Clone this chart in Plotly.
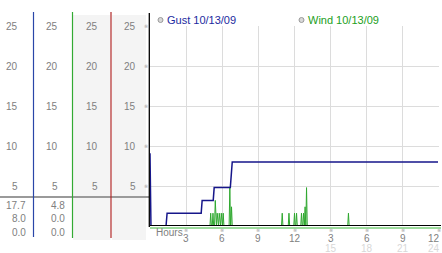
import plotly.graph_objects as go

W, H = 442, 253
L, R, T, B = 150, 3, 26, 27
PW = W - L - R
PH = H - T - B

def px(x):
    return (x - L) / PW

def py(y):
    return (H - B - y) / PH

# ---------------- data ----------------
gust_hours = [0, 0.08, 1.33, 1.42, 4.25, 4.33, 5.25, 5.33, 6.67, 6.83, 23.92]
gust_vals = [9.1, 0, 0, 1.6, 1.6, 3.2, 3.2, 4.8, 4.8, 8.0, 8.0]

wind_spike_hours = [5.04, 5.23, 5.42, 5.58, 5.75, 5.92, 6.08, 6.63, 6.77,
                    10.98, 11.54, 12.0, 12.17, 12.58, 12.75, 12.88, 13.0, 16.48]
wind_spike_vals = [1.6, 1.6, 3.2, 1.6, 1.6, 1.6, 1.6, 4.8, 2.4,
                   1.6, 1.6, 1.6, 1.6, 1.6, 1.6, 2.4, 4.8, 1.6]

y_ticks = [5, 10, 15, 20, 25]
x_ticks = [3, 6, 9, 12, 15, 18, 21, 24]
x_labels = ["3", "6", "9", "12", "3", "6", "9", "12"]
x_labels2_pos = [15, 18, 21, 24]
x_labels2 = ["15", "18", "21", "24"]

gust_stats = ["17.7", "8.0", "0.0"]
wind_stats = ["4.8", "0.0", "0.0"]

legend_items = ["Gust 10/13/09", "Wind 10/13/09"]

# build wind line (zero between spikes)
wind_x, wind_y = [0], [0]
for h, v in zip(wind_spike_hours, wind_spike_vals):
    wind_x += [h - 0.06, h, h + 0.06]
    wind_y += [0, v, 0]
wind_x.append(24)
wind_y.append(0)

GUST_C = "#16168a"
WIND_C = "#2fa82f"
FONT = "Liberation Sans"
LBL_C = "#808080"

fig = go.Figure()
fig.add_trace(go.Scatter(x=wind_x, y=wind_y, mode="lines",
                         line=dict(color=WIND_C, width=1), hoverinfo="skip"))
fig.add_trace(go.Scatter(x=gust_hours, y=gust_vals, mode="lines",
                         line=dict(color=GUST_C, width=1.5), hoverinfo="skip"))

shapes = []
# gray column backgrounds
shapes.append(dict(type="rect", xref="paper", yref="paper", x0=px(73), x1=px(110.5),
                   y0=py(240), y1=py(15), fillcolor="#f4f4f4", line=dict(width=0), layer="below"))
shapes.append(dict(type="rect", xref="paper", yref="paper", x0=px(112), x1=px(146),
                   y0=py(240), y1=py(15), fillcolor="#f4f4f4", line=dict(width=0), layer="below"))
# gray separator
shapes.append(dict(type="line", xref="paper", yref="paper", x0=px(0), x1=px(149),
                   y0=py(197), y1=py(197), line=dict(color="#9a9a9a", width=2)))
# colored column lines
for xx, col, ybot in [(33.5, "#2a46a8", 237), (72.5, "#33aa33", 238), (111, "#b02828", 238)]:
    shapes.append(dict(type="line", xref="paper", yref="paper", x0=px(xx), x1=px(xx),
                       y0=py(ybot), y1=py(12), line=dict(color=col, width=1.2)))
# black plot left line
shapes.append(dict(type="line", xref="paper", yref="paper", x0=px(149.3), x1=px(149.3),
                   y0=py(227), y1=py(13), line=dict(color="#000000", width=1.3)))
# green baseline under axis
shapes.append(dict(type="line", xref="paper", yref="paper", x0=px(150), x1=px(441),
                   y0=py(228), y1=py(228), line=dict(color="#7cd07c", width=1.5)))
# black baseline
shapes.append(dict(type="line", xref="paper", yref="y", x0=px(150), x1=px(441),
                   y0=0, y1=0, line=dict(color="#000000", width=2)))
# legend circles
for cx in [160.5, 301.5]:
    shapes.append(dict(type="circle", xref="paper", yref="paper",
                       x0=px(cx - 2.5), x1=px(cx + 2.5), y0=py(22.5), y1=py(17.5),
                       fillcolor="#d8d8d8", line=dict(color="#999999", width=1)))

ann = []
# y labels in the 4 columns
for right_x in [19.5, 60, 99.5, 137.5]:
    for v in y_ticks:
        ann.append(dict(x=px(right_x), y=v, xref="paper", yref="y", text=str(v),
                        showarrow=False, xanchor="right", yanchor="middle",
                        font=dict(family=FONT, size=10, color=LBL_C)))
# small tick marks
for v in y_ticks:
    ann.append(dict(x=px(146), y=v, xref="paper", yref="y", text="※",
                    showarrow=False, xanchor="center", yanchor="middle",
                    font=dict(family="DejaVu Sans", size=5, color="#a0a0a0")))
for xv in x_ticks:
    if xv == 24:
        ann.append(dict(x=px(438.5), y=py(230), xref="paper", yref="paper", text="※",
                        showarrow=False, xanchor="center", yanchor="middle",
                        font=dict(family="DejaVu Sans", size=5, color="#a0a0a0")))
    else:
        ann.append(dict(x=xv, y=py(230), xref="x", yref="paper", text="※",
                        showarrow=False, xanchor="center", yanchor="middle",
                        font=dict(family="DejaVu Sans", size=5, color="#a0a0a0")))
# stats
for i, s in enumerate(gust_stats):
    ann.append(dict(x=px(27.5), y=py(205 + 13.5 * i), xref="paper", yref="paper", text=s,
                    showarrow=False, xanchor="right", yanchor="middle",
                    font=dict(family=FONT, size=10, color=LBL_C)))
for i, s in enumerate(wind_stats):
    ann.append(dict(x=px(66.5), y=py(205 + 13.5 * i), xref="paper", yref="paper", text=s,
                    showarrow=False, xanchor="right", yanchor="middle",
                    font=dict(family=FONT, size=10, color=LBL_C)))

# x labels
def xlab(xv, t, ypix, color):
    if xv == 24:
        return dict(x=px(441.5), y=py(ypix), xref="paper", yref="paper", text=t,
                    showarrow=False, xanchor="right", yanchor="middle",
                    font=dict(family=FONT, size=10, color=color))
    return dict(x=xv, y=py(ypix), xref="x", yref="paper", text=t,
                showarrow=False, xanchor="center", yanchor="middle",
                font=dict(family=FONT, size=10, color=color))

for xv, t in zip(x_ticks, x_labels):
    ann.append(xlab(xv, t, 238, LBL_C))
for xv, t in zip(x_labels2_pos, x_labels2):
    ann.append(xlab(xv, t, 248, "#d8d8d8"))
ann.append(dict(x=px(153.5), y=py(232), xref="paper", yref="paper", text="Hours",
                showarrow=False, xanchor="left", yanchor="middle",
                font=dict(family=FONT, size=10, color=LBL_C)))
# legend text
for lx, t, c in [(165, legend_items[0], "#1c2aa0"), (306, legend_items[1], "#22a022")]:
    ann.append(dict(x=px(lx), y=py(20), xref="paper", yref="paper", text=t,
                    showarrow=False, xanchor="left", yanchor="middle",
                    font=dict(family=FONT, size=11, color=c)))

fig.update_layout(
    width=W, height=H,
    margin=dict(l=L, r=R, t=T, b=B, pad=0),
    paper_bgcolor="white", plot_bgcolor="white",
    showlegend=False,
    shapes=shapes, annotations=ann,
    xaxis=dict(range=[0, 24], tickvals=x_ticks, showticklabels=False, ticks="",
               showgrid=True, gridcolor="#dcdcdc", gridwidth=1, zeroline=False,
               showline=False, fixedrange=True),
    yaxis=dict(range=[0, 25], tickvals=y_ticks, showticklabels=False, ticks="",
               showgrid=True, gridcolor="#dcdcdc", gridwidth=1, zeroline=False,
               showline=False, fixedrange=True),
)

fig.write_html("out.html", config={"displayModeBar": False})
